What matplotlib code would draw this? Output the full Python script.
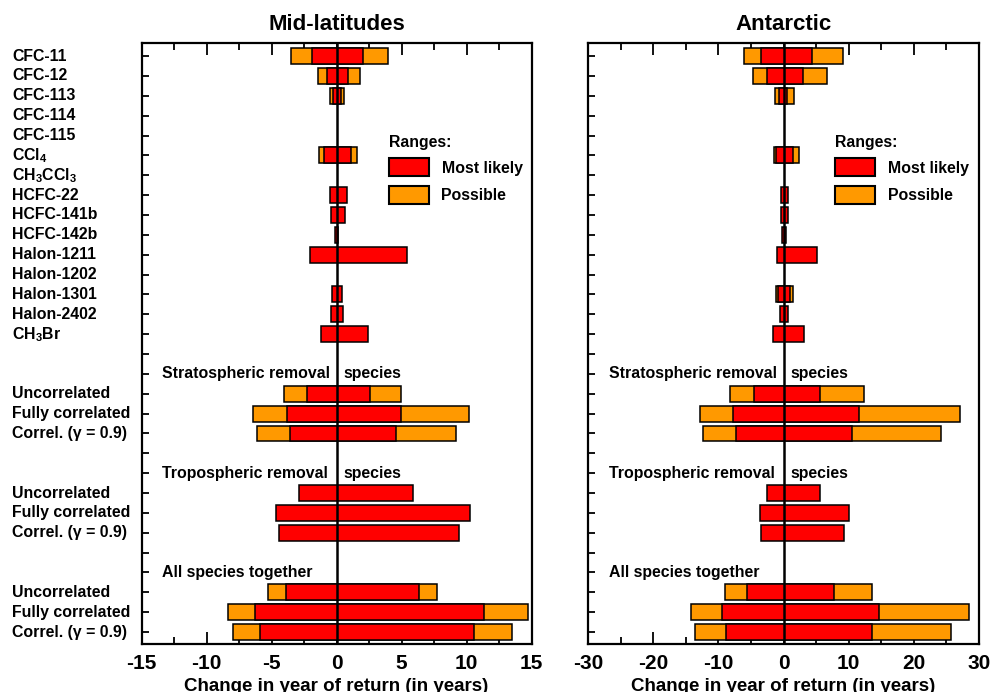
import numpy as np
import matplotlib
matplotlib.use("Agg")
import matplotlib.pyplot as plt
from matplotlib.patches import Rectangle
import matplotlib.ticker as mticker
import matplotlib.transforms as mtransforms

plt.rcParams['font.family'] = ['Liberation Sans', 'DejaVu Sans']
plt.rcParams['font.weight'] = 'bold'
plt.rcParams['axes.unicode_minus'] = False
plt.rcParams['mathtext.fontset'] = 'custom'
plt.rcParams['mathtext.rm'] = 'Liberation Sans:bold'
plt.rcParams['mathtext.bf'] = 'Liberation Sans:bold'
plt.rcParams['mathtext.default'] = 'rm'

# ---------------- data ----------------
species = ['CFC-11', 'CFC-12', 'CFC-113', 'CFC-114', 'CFC-115', 'CCl$_4$',
           'CH$_3$CCl$_3$', 'HCFC-22', 'HCFC-141b', 'HCFC-142b', 'Halon-1211',
           'Halon-1202', 'Halon-1301', 'Halon-2402', 'CH$_3$Br']
group_titles = [('Stratospheric removal', 'species'),
                ('Tropospheric removal', 'species'),
                ('All species together', '')]
cases = ['Uncorrelated', 'Fully correlated', 'Correl. (\u03b3 = 0.9)']

N = None
# Mid-latitudes: most likely range (low, high)
mid_likely_lo = [-1.86, -0.72, -0.26, N, N, -0.98, N, -0.47, -0.39, -0.10, -2.02, N, -0.36, -0.44, -1.16,
                 -2.28, -3.83, -3.59, -2.87, -4.63, -4.42, -3.88, -6.26, -5.92]
mid_likely_hi = [2.07, 0.85, 0.36, N, N, 1.11, N, 0.83, 0.67, 0.15, 5.43, N, 0.44, 0.52, 2.46,
                 2.59, 4.99, 4.60, 5.87, 10.27, 9.46, 6.36, 11.33, 10.55]
# Mid-latitudes: possible range
mid_possible_lo = [-3.49, -1.42, -0.47, N, N, -1.34, N, N, N, N, N, N, N, N, N,
                   -4.06, -6.44, -6.13, N, N, N, -5.28, -8.38, -7.94]
mid_possible_hi = [3.93, 1.81, 0.59, N, N, 1.60, N, N, N, N, N, N, N, N, N,
                   4.94, 10.21, 9.21, N, N, N, 7.73, 14.71, 13.50]

# Antarctic: most likely range
ant_likely_lo = [-3.45, -2.57, -0.65, N, N, -1.08, N, -0.41, -0.41, -0.26, -0.98, N, -0.82, -0.51, -1.60,
                 -4.58, -7.82, -7.36, -2.47, -3.60, -3.50, -5.61, -9.42, -8.80]
ant_likely_hi = [4.32, 3.04, 0.55, N, N, 1.49, N, 0.72, 0.72, 0.31, 5.10, N, 0.98, 0.72, 3.14,
                 5.61, 11.53, 10.55, 5.61, 10.04, 9.21, 7.72, 14.62, 13.54]
# Antarctic: possible range
ant_possible_lo = [-6.07, -4.73, -1.24, N, N, -1.44, N, N, N, N, N, N, -1.18, N, N,
                   -8.18, -12.87, -12.30, N, N, N, -8.96, -14.26, -13.59]
ant_possible_hi = [9.06, 6.74, 1.65, N, N, 2.32, N, N, N, N, N, N, 1.39, N, N,
                   12.30, 27.07, 24.24, N, N, N, 13.54, 28.46, 25.73]

panel_titles = ['Mid-latitudes', 'Antarctic']
xlabel = 'Change in year of return (in years)'
legend_title = 'Ranges:'
legend_labels = ['Most likely', 'Possible']

RED = '#ff0000'
ORANGE = '#ff9900'

# row layout: 15 species, blank, title, 3 cases, blank, title, 3 cases, blank, title, 3 cases
data_rows = list(range(15))
title_rows = []
r = 15
for g in range(3):
    r += 1
    title_rows.append(r)
    data_rows += [r + 1, r + 2, r + 3]
    r += 4
n_rows = 30
row_labels = species + cases * 3

fig = plt.figure(figsize=(9.92, 6.92), dpi=100)
W, H = 992, 692
ax_boxes = [(141.5, 531.5), (588, 979)]
top_px, bot_px = 43, 644
axes = []
for (x0, x1) in ax_boxes:
    axes.append(fig.add_axes([x0 / W, 1 - bot_px / H, (x1 - x0) / W, (bot_px - top_px) / H]))

panels = [
    (mid_likely_lo, mid_likely_hi, mid_possible_lo, mid_possible_hi, 15, 5, 2.5),
    (ant_likely_lo, ant_likely_hi, ant_possible_lo, ant_possible_hi, 30, 10, 5),
]

bar_h = 0.8
for ax, title, (llo, lhi, plo, phi, lim, major, minor) in zip(axes, panel_titles, panels):
    for i, row in enumerate(data_rows):
        if plo[i] is not None:
            ax.barh(row, phi[i] - plo[i], left=plo[i], height=bar_h, color=ORANGE,
                    edgecolor='black', linewidth=1.1, zorder=2)
        if llo[i] is not None:
            ax.barh(row, lhi[i] - llo[i], left=llo[i], height=bar_h, color=RED,
                    edgecolor='black', linewidth=1.1, zorder=3)
    ax.axvline(0, color='black', linewidth=1.8, zorder=4)
    ax.set_xlim(-lim, lim)
    ax.set_ylim(29.6, -0.66)
    ax.set_yticks(range(n_rows))
    ax.set_yticklabels([])
    ax.xaxis.set_major_locator(mticker.MultipleLocator(major))
    ax.xaxis.set_minor_locator(mticker.MultipleLocator(minor))
    ax.tick_params(axis='x', which='both', direction='in', top=True, bottom=True,
                   labelsize=15, width=1.3, pad=7)
    ax.tick_params(axis='x', which='major', length=8.5)
    ax.tick_params(axis='x', which='minor', length=5)
    ax.tick_params(axis='y', which='both', direction='in', left=True, right=False,
                   length=5, width=1.3)
    for s in ax.spines.values():
        s.set_linewidth(1.6)
    ax.set_xlabel(xlabel, fontsize=13.5, fontweight='bold', labelpad=4)
    ax.set_title(title, fontsize=16, fontweight='bold', pad=9)

    # group titles
    left_tr = mtransforms.blended_transform_factory(ax.transAxes, ax.transData)
    for (t1, t2), row in zip(group_titles, title_rows):
        ax.text(21 / (ax_boxes[0][1] - ax_boxes[0][0]), row, t1, transform=left_tr,
                fontsize=11.4, fontweight='bold', va='center', ha='left', zorder=5)
        if t2:
            ax.annotate(t2, xy=(0, row), xycoords='data', xytext=(5, 0),
                        textcoords='offset points', fontsize=11.4, fontweight='bold',
                        va='center', ha='left', zorder=5)

    # legend (manual)
    x0px, x1px = ax_boxes[axes.index(ax)]
    wpx = x1px - x0px
    hpx = bot_px - top_px
    def fx(px):
        return (px - x0px) / wpx
    def fy(py):
        return (bot_px - py) / hpx
    lx = x0px + 247
    ax.text(fx(lx), fy(143), legend_title, transform=ax.transAxes, fontsize=11.4,
            fontweight='bold', va='center', ha='left')
    for k, (col, lab) in enumerate(zip([RED, ORANGE], legend_labels)):
        yc = 167 + 27.5 * k
        ax.add_patch(Rectangle((fx(lx), fy(yc + 9)), 40 / wpx, 18 / hpx,
                               transform=ax.transAxes, facecolor=col,
                               edgecolor='black', linewidth=1.5, zorder=5))
        ax.text(fx(lx + 53), fy(yc + 1), lab, transform=ax.transAxes, fontsize=11.4,
                fontweight='bold', va='center', ha='left')

# left-hand row labels
ax0 = axes[0]
lab_tr = mtransforms.blended_transform_factory(fig.transFigure, ax0.transData)
for lab, row in zip(row_labels, data_rows):
    fig.text(12 / W, row, lab, transform=lab_tr, fontsize=11.4, fontweight='bold',
             va='center', ha='left')

fig.savefig('out.png', dpi=100)
